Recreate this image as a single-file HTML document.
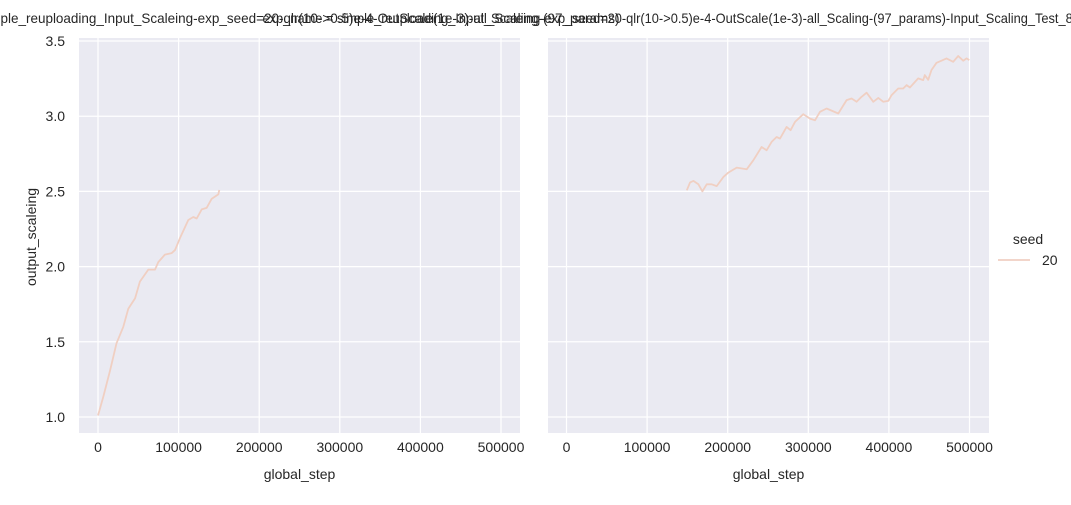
<!DOCTYPE html>
<html><head><meta charset="utf-8"><style>
body{margin:0;background:#fff;font-family:"Liberation Sans",Arial,sans-serif;}
svg text{font-family:"Liberation Sans",Arial,sans-serif;fill:#262626;}
</style></head><body>
<svg id="chart" width="1071" height="500" xmlns="http://www.w3.org/2000/svg">
<g id="root"></g>
</svg>
<script>
const leftSteps=[0,6600,15000,23000,31400,37600,46000,52000,62400,70700,74800,83000,91400,95500,101700,112000,118200,122400,128600,134800,141000,149200,150500];
const leftValues=[1.01,1.135,1.31,1.49,1.60,1.72,1.79,1.90,1.98,1.98,2.03,2.08,2.09,2.11,2.19,2.31,2.33,2.32,2.38,2.39,2.45,2.48,2.51];
const rightSteps=[149200,153300,157400,163600,168600,174000,180200,186400,194600,200800,211200,223600,231800,242100,248300,254500,260700,264900,273100,278100,283500,293800,302100,308300,314500,322700,337200,347500,353700,359900,366100,372300,380600,386800,393000,399200,403300,411600,417800,421900,426000,436400,442600,444600,448800,452900,459100,465300,471500,479800,486000,492200,496400,499700];
const rightValues=[2.507,2.56,2.57,2.547,2.50,2.547,2.547,2.535,2.595,2.625,2.658,2.647,2.707,2.795,2.773,2.829,2.862,2.851,2.929,2.907,2.962,3.013,2.984,2.973,3.029,3.051,3.018,3.107,3.118,3.096,3.129,3.156,3.096,3.122,3.096,3.102,3.14,3.184,3.184,3.207,3.191,3.251,3.24,3.273,3.242,3.307,3.355,3.369,3.384,3.362,3.40,3.369,3.384,3.373];
const xTicks=[0,100000,200000,300000,400000,500000];
const yTicks=[1.0,1.5,2.0,2.5,3.0,3.5];
const titles=["simple_reuploading_Input_Scaleing-exp_seed=20-qlr(10->0.5)e-4-OutScale(1e-3)-all_Scaling-(97_params)","exp_name = simple_reuploading_Input_Scaleing-exp_seed=20-qlr(10->0.5)e-4-OutScale(1e-3)-all_Scaling-(97_params)-Input_Scaling_Test_80000-qlr(10-0.5)e-4-OutScale(1e-3)"];
const NS="http://www.w3.org/2000/svg";
const root=document.getElementById('root');
function mk(tag,attrs,parent){const e=document.createElementNS(NS,tag);for(const k in attrs)e.setAttribute(k,attrs[k]);(parent||root).appendChild(e);return e;}
const plotTop=38,plotBot=433;
const yScale=v=>417-(v-1.0)*150.4;
const panels=[{x0:79,x1:520,zero:98,steps:leftSteps,vals:leftValues,tl:640},{x0:548,x1:989,zero:566.5,steps:rightSteps,vals:rightValues,tl:1012}];
panels.forEach((p,i)=>{
  const xs=s=>p.zero+s*0.000806;
  const g=mk('g',{});
  
  
  const bg=mk('rect',{x:p.x0,y:plotTop,width:p.x1-p.x0,height:plotBot-plotTop,fill:'#eaeaf2'},g);
  
  
  xTicks.forEach(t=>{
    const gl=mk('line',{x1:xs(t),x2:xs(t),y1:plotTop,y2:plotBot,stroke:'#fff','stroke-width':1.25},g);
    
    
    const tx=mk('text',{x:xs(t),y:plotBot+19,'text-anchor':'middle','font-size':14},g);
    tx.textContent=String(t);
    
    
  });
  yTicks.forEach(t=>{
    const gl=mk('line',{x1:p.x0,x2:p.x1,y1:yScale(t),y2:yScale(t),stroke:'#fff','stroke-width':1.25},g);
    
    
    if(i===0){
      const tx=mk('text',{x:p.x0-14,y:yScale(t)+5,'text-anchor':'end','font-size':14},g);
      tx.textContent=t.toFixed(1);
      
      
    }
  });
  const d=p.steps.map((s,k)=>(k?'L':'M')+xs(s).toFixed(1)+','+yScale(p.vals[k]).toFixed(1)).join('');
  const ln=mk('path',{d:d,fill:'none',stroke:'#f0cfc2','stroke-width':1.8,'stroke-linejoin':'round'},g);
  
  
  const xl=mk('text',{x:(p.x0+p.x1)/2,y:479,'text-anchor':'middle','font-size':14},g);
  xl.textContent='global_step';
  
  
  const ti=mk('text',{x:(p.x0+p.x1)/2,y:23,'text-anchor':'middle','font-size':14,textLength:p.tl,lengthAdjust:'spacingAndGlyphs'},g);
  ti.textContent=titles[i];
  
  
});
const yl=mk('text',{x:36,y:237,'text-anchor':'middle','font-size':14,transform:'rotate(-90 36 237)'});
yl.textContent='output_scaleing';


const lg=mk('g',{});


const lt=mk('text',{x:1028,y:244,'text-anchor':'middle','font-size':14},lg);
lt.textContent='seed';


const ll=mk('line',{x1:998,x2:1030,y1:260,y2:260,stroke:'#f0cfc2','stroke-width':1.8},lg);


const le=mk('text',{x:1042,y:265,'font-size':14},lg);
le.textContent='20';


</script>
</body></html>
